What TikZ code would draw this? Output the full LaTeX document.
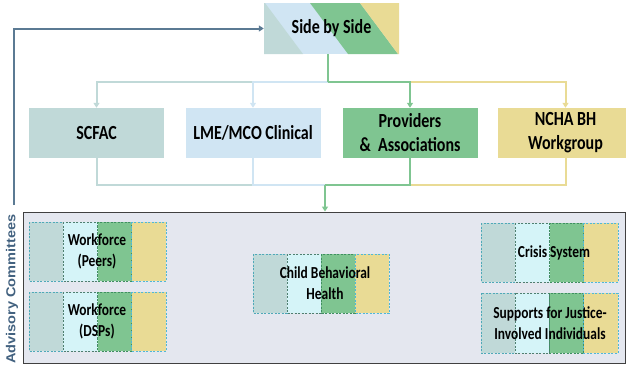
\documentclass[tikz,border=0pt]{standalone}
\usepackage{fontspec}
\newfontfamily\cf{Carlito}[FakeStretch=0.8]
\newfontfamily\af{Liberation Sans}[FakeStretch=1.12]
\usetikzlibrary{arrows.meta}
\definecolor{cteal}{HTML}{C0D9D8}
\definecolor{cblue}{HTML}{D0E5F3}
\definecolor{cgreen}{HTML}{7FC591}
\definecolor{cyell}{HTML}{E9DB95}
\definecolor{ccyan}{HTML}{D5F4F8}
\definecolor{cpanel}{HTML}{E4E7EF}
\definecolor{cnavy}{HTML}{5B7A93}
\definecolor{ctext}{HTML}{42617F}
\definecolor{dteal}{HTML}{4FA9B8}
\definecolor{dcyan}{HTML}{4F7F70}
\definecolor{dgreen}{HTML}{3F8F60}
\definecolor{dyell}{HTML}{4FB8D8}
\tikzset{
  mainbox/.style={rectangle, inner sep=0pt, minimum width=135pt, minimum height=50pt,
    align=center, font=\cf\fontsize{20}{24}\selectfont\bfseries},
  conn/.style={line width=2pt},
  tip/.style={-{Triangle[length=5pt,width=6pt]}},
  segline/.style={line width=0.8pt, dash pattern=on 2pt off 1.5pt},
  ctxt/.style={align=center, inner sep=0pt, font=\cf\fontsize{16.8}{21}\selectfont\bfseries},
}
\newcommand\cmte[4]{%
  \pgfmathsetmacro\cw{(#3-#1)/4}%
  \path[fill=cteal, draw=dteal, segline] (#1,#2) rectangle ({#1+\cw},#4);
  \path[fill=ccyan, draw=dcyan, segline] ({#1+\cw},#2) rectangle ({#1+2*\cw},#4);
  \path[fill=cgreen, draw=dgreen, segline] ({#1+2*\cw},#2) rectangle ({#1+3*\cw},#4);
  \path[fill=cyell, draw=dyell, segline] ({#1+3*\cw},#2) rectangle (#3,#4);
}
\begin{document}
\begin{tikzpicture}[x=1pt,y=-1pt]
\useasboundingbox (0,0) rectangle (626,368);
\clip (0,0) rectangle (626,368);

% Side by Side striped box
\begin{scope}
  \clip (264,3) rectangle (399,54);
  \fill[cblue] (264,3) rectangle (399,54);
  \fill[cteal] (264,3) -- (265,3) -- (303,54) -- (264,54) -- cycle;
  \fill[cgreen] (310,3) -- (360,3) -- (398,54) -- (348,54) -- cycle;
  \fill[cyell] (360,3) -- (410,3) -- (410,54) -- (398,54) -- cycle;
\end{scope}
\node[rectangle, inner sep=0pt, minimum width=135pt, minimum height=51pt,
  font=\cf\fontsize{20}{24}\selectfont\bfseries] (sbs) at (331.5,28.5) {Side by Side};

% Main boxes
\node[mainbox, fill=cteal] (scfac) at (96.5,133) {SCFAC};
\node[mainbox, fill=cblue] (lme) at (253,133) {LME/MCO Clinical};
\node[mainbox, fill=cgreen] (prov) at (410,133) {Providers\\\&\ \ Associations};
\node[mainbox, fill=cyell] (ncha) at (565.5,133) {NCHA BH\\Workgroup};

% Panel
\node[rectangle, inner sep=0pt, fill=cpanel, draw=black!75, line width=0.9pt,
  minimum width=602pt, minimum height=151pt] (panel) at (324,287.5) {};

% Top connectors
\coordinate (jt) at (328,82);
\draw[conn, cyell, tip] (jt -| prov) -| (ncha.north);
\draw[conn, cteal, tip] (jt -| lme) -| (scfac.north);
\draw[conn, cblue, tip] (jt) -| (lme.north);
\draw[conn, cgreen] (sbs.south -| jt) -- (jt);
\draw[conn, cgreen, tip] (jt) -| (prov.north);

% Bottom connectors
\coordinate (jb) at (325,185);
\draw[conn, cteal] (scfac.south) |- (jb -| lme);
\draw[conn, cyell] (ncha.south) |- (jb -| prov);
\draw[conn, cblue] (lme.south) |- (jb);
\draw[conn, cgreen] (prov.south) |- (jb);
\draw[conn, cgreen, tip] (jb) -- (jb |- panel.north);

% Left arrow
\coordinate (advtop) at (14,205);
\draw[conn, cnavy, tip] (advtop) |- (sbs.west);

\node[rotate=90, inner sep=0pt, text=ctext, font=\af\fontsize{13}{15}\selectfont\bfseries]
  (adv) at (12,289) {Advisory Committees};

% Committees
\cmte{29}{222}{166}{281}
\cmte{29}{292}{166}{351}
\cmte{253}{254}{389}{313}
\cmte{481}{223}{618}{282}
\cmte{481}{293}{618}{353}
\node[ctxt] (wfp) at (97,251.5) {Workforce\\(Peers)};
\node[ctxt] (wfd) at (97,321.5) {Workforce\\(DSPs)};
\node[ctxt] (cbh) at (325,283.5) {Child Behavioral\\Health};
\node[ctxt] (cri) at (554,252.5) {Crisis System};
\node[ctxt] (sup) at (550,323) {Supports for Justice-\\Involved Individuals};
\end{tikzpicture}
\end{document}
